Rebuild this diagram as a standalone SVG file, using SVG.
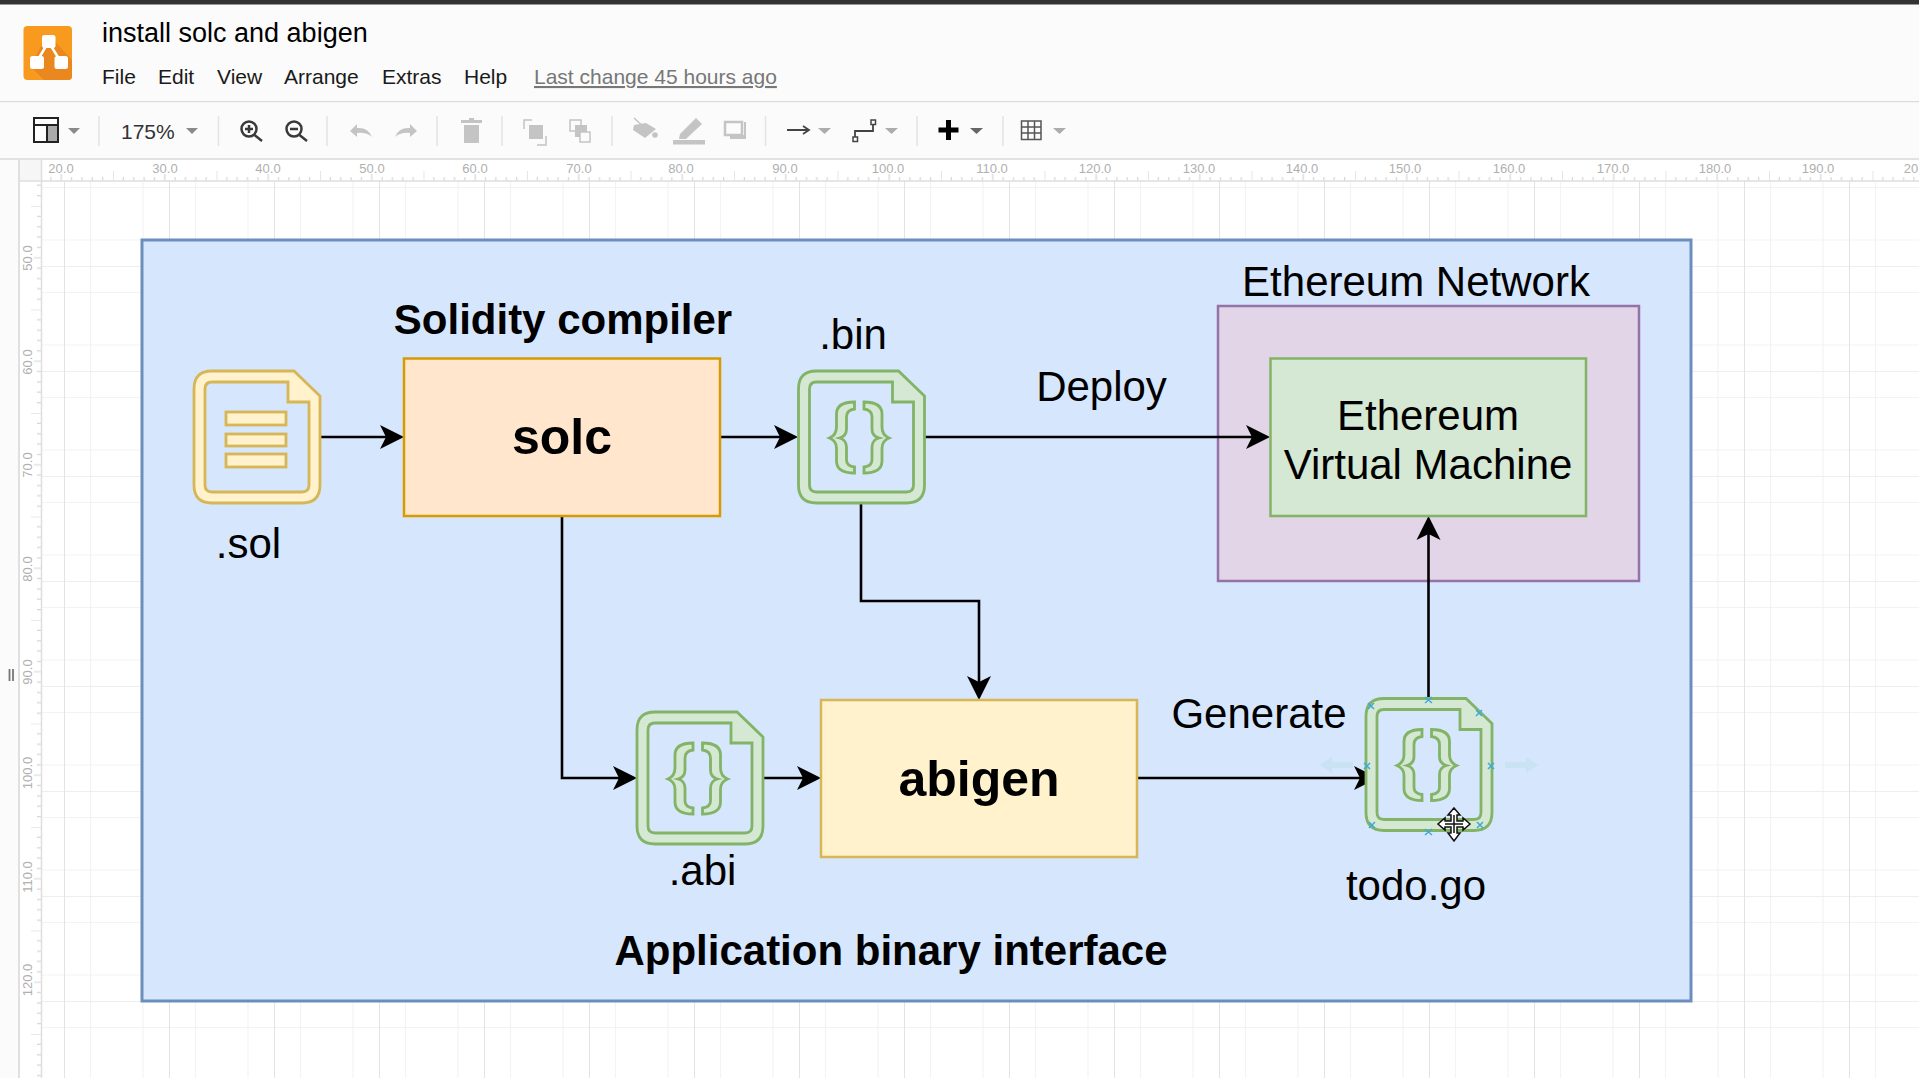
<svg xmlns="http://www.w3.org/2000/svg" width="1919" height="1078" viewBox="0 0 1919 1078">
<style>
text{font-family:"Liberation Sans",Arial,sans-serif;fill:#000}
.ui{font-size:21px;fill:#1a1a1a}
.rl{font-size:13px;fill:#b0b0b0;text-anchor:middle}
.lb{font-size:42px;text-anchor:middle}
.bd{font-weight:bold;text-anchor:middle}
.sep{stroke:#e4e4e4;stroke-width:1.5}
.tri{fill:#8a8a8a}
.off{fill:#c4c4c4;stroke:none}
.offl{fill:none;stroke:#c4c4c4;stroke-width:2.5}
.dk{fill:none;stroke:#3a3a3a;stroke-width:2.5}
.conn{fill:none;stroke:#000;stroke-width:2.6;marker-end:url(#ah)}
.cp{stroke:#3fa9d8;stroke-width:1.5;fill:none}
.gr{fill:#d5e8d4;stroke:#82b366;stroke-width:2.8}
.yl{fill:#fff2cc;stroke:#d6b656;stroke-width:2.8}
</style>
<defs>
<marker id="ah" markerUnits="userSpaceOnUse" markerWidth="26" markerHeight="26" refX="18" refY="12" orient="auto" viewBox="0 0 26 24">
<path d="M0,0 L24,12 L0,24 L6,12 Z" fill="#000"/>
</marker>
<path id="fileshape" fill-rule="evenodd" d="M18,0 H100 L126,25 V114 Q126,132 108,132 H18 Q0,132 0,114 V18 Q0,0 18,0 Z M18,11 Q11,11 11,18 V114 Q11,121 18,121 H108 Q115,121 115,114 V31 H94 V11 Z"/>
<path id="brace" d="M56,31 V38 Q48,39 48,46 V58 Q48,65 41,67 Q48,69 48,76 V89 Q48,95 56,96 V102 Q38,102 38,90 V77 Q38,70 31,67 Q38,64 38,56 V43 Q38,31 56,31 Z"/>
<g id="codefile">
<use href="#fileshape"/>
<use href="#brace"/>
<use href="#brace" transform="translate(121.5,0) scale(-1,1)"/>
</g>
<pattern id="grid" patternUnits="userSpaceOnUse" x="64" y="266" width="105" height="105">
<path d="M26.5,0 V105 M79,0 V105 M0,26.5 H105 M0,79 H105" stroke="#f3f3f3" stroke-width="1.2" fill="none"/>
<path d="M0,0 H105" stroke="#e9e9e9" stroke-width="1.5" fill="none"/>
<path d="M0,0 V105" stroke="#e3e3e3" stroke-width="2" fill="none"/>
</pattern>
<pattern id="tickx" patternUnits="userSpaceOnUse" x="9.5" y="160" width="103.5" height="22">
<path d="M0,11 V21 M10.35,17 V21 M20.7,17 V21 M31.05,17 V21 M41.4,17 V21 M51.75,14 V21 M62.1,17 V21 M72.45,17 V21 M82.8,17 V21 M93.15,17 V21" stroke="#d6d6d6" stroke-width="1.2" fill="none"/>
</pattern>
<pattern id="ticky" patternUnits="userSpaceOnUse" x="19" y="206" width="23" height="103.5">
<path d="M12,0 H22 M18,10.35 H22 M18,20.7 H22 M18,31.05 H22 M18,41.4 H22 M15,51.75 H22 M18,62.1 H22 M18,72.45 H22 M18,82.8 H22 M18,93.15 H22" stroke="#d6d6d6" stroke-width="1.2" fill="none"/>
</pattern>
</defs>

<g id="canvas">
<rect width="1919" height="1078" fill="#ffffff"/>
<rect x="42" y="181" width="1877" height="897" fill="url(#grid)"/>
</g>

<g id="header">
<rect width="1919" height="102" fill="#fbfbfb"/>
<rect width="1919" height="4.5" fill="#333333"/>
<rect y="101" width="1919" height="1.5" fill="#dcdcdc"/>
<rect x="23.500" y="26" width="48.500" height="54" rx="4" fill="#f79a1e"/>
<path d="M48,34 L72,60 V76 Q72,80 68,80 H44 L30,66 Z" fill="#ea871f"/>
<path d="M48.500,42 L36.500,62 M48.500,42 L61,62" stroke="#fff" stroke-width="2.500" fill="none"/>
<rect x="42" y="35" width="13.500" height="13" rx="2.500" fill="#fff"/>
<rect x="30" y="56" width="14" height="13" rx="2.500" fill="#fff"/>
<rect x="54.500" y="56" width="13.500" height="13" rx="2.500" fill="#fff"/>
<text x="102" y="42" font-size="27">install solc and abigen</text>
<text class="ui" x="102" y="84">File</text>
<text class="ui" x="158" y="84">Edit</text>
<text class="ui" x="217" y="84">View</text>
<text class="ui" x="284" y="84">Arrange</text>
<text class="ui" x="382" y="84">Extras</text>
<text class="ui" x="464" y="84">Help</text>
<text x="534" y="84" font-size="21" style="fill:#777" text-decoration="underline">Last change 45 hours ago</text>
</g>

<g id="toolbar">
<rect y="102.500" width="1919" height="56" fill="#fbfbfb"/>
<rect y="158" width="1919" height="2" fill="#e2e2e2"/>
<rect x="34" y="118" width="24" height="24" fill="#fff" stroke="#222" stroke-width="2"/>
<path d="M34,125 H58" stroke="#222" stroke-width="2"/>
<rect x="47" y="125" width="11" height="17" fill="#aaa" stroke="#222" stroke-width="2"/>
<path class="tri" d="M68,128 H80 L74,134 Z"/>
<path class="sep" d="M99,116 V146 M218.500,116 V146 M327,116 V146 M437,116 V146 M502,116 V146 M612,116 V146 M765.500,116 V146 M917,116 V146 M1003,116 V146"/>
<text x="121" y="139" font-size="21" style="fill:#333">175%</text>
<path class="tri" d="M186,128 H198 L192,134 Z"/>
<circle class="dk" cx="249" cy="129" r="7.500"/>
<path class="dk" d="M254.500,135 L262,141 M245,129 H253 M249,125 V133"/>
<circle class="dk" cx="294" cy="129" r="7.500"/>
<path class="dk" d="M299.500,135 L307,141 M290,129 H298"/>
<path class="off" d="M350,131 L357,124 V128 Q368,127 372,137 Q366,132 357,133 V137 Z"/>
<path class="off" d="M417,131 L410,124 V128 Q399,127 395,137 Q401,132 410,133 V137 Z"/>
<path class="off" d="M461,120 H469 V118 H474 V120 H482 V123 H461 Z M464,125 H479 V143 H464 Z"/>
<rect class="off" x="529" y="125" width="14" height="14"/>
<path class="offl" style="stroke-width:1.500" d="M532,120 H524 V129 M537,145 H546 V136"/>
<rect x="570" y="120" width="11" height="11" fill="#fbfbfb" stroke="#c4c4c4" stroke-width="1.500"/>
<rect class="off" x="575" y="125" width="12" height="12"/>
<rect x="580" y="132" width="10" height="10" fill="#fbfbfb" stroke="#c4c4c4" stroke-width="1.500"/>
<path class="off" d="M634,125 L646,123 L656,129 L645,138 L633,130 Z"/>
<path class="offl" style="stroke-width:1.500" d="M634,118 L645,128"/>
<circle class="off" cx="655" cy="135" r="2.800"/>
<path class="off" d="M680,134 L696,118 L702,124 L686,139 L679,139 Z"/>
<rect class="off" x="673" y="140" width="32" height="4.500"/>
<rect x="725" y="122" width="17" height="13" fill="none" stroke="#c4c4c4" stroke-width="2.500"/>
<path class="off" d="M730,135 H744 V122 H746 V139 H730 Z"/>
<path d="M787,130 H808 M803,126 L809,130 L803,134" fill="none" stroke="#444" stroke-width="1.800"/>
<path class="tri" d="M818,128 H831 L824.500,134 Z" fill-opacity=".7"/>
<path d="M855,137 V131 H873 V124" fill="none" stroke="#444" stroke-width="1.800"/>
<rect x="853" y="137" width="4.500" height="4.500" fill="#fff" stroke="#444" stroke-width="1.500"/>
<rect x="871" y="120" width="4.500" height="4.500" fill="#fff" stroke="#444" stroke-width="1.500"/>
<path class="tri" d="M885,128 H898 L891.500,134 Z" fill-opacity=".7"/>
<path d="M938.500,130 H958.500 M948.500,120 V140" stroke="#000" stroke-width="5" fill="none"/>
<path class="tri" d="M970,128 H983 L976.500,134 Z" style="fill:#666"/>
<path d="M1021.500,121 H1041 V139.500 H1021.500 Z M1021.500,127 H1041 M1021.500,133 H1041 M1028,121 V139.500 M1034.500,121 V139.500" fill="none" stroke="#555" stroke-width="1.500"/>
<path class="tri" d="M1053,128 H1066 L1059.500,134 Z" fill-opacity=".7"/>
</g>

<g id="rulers">
<rect x="0" y="160" width="19" height="918" fill="#fbfbfb"/>
<rect x="19" y="160" width="23" height="918" fill="#ffffff"/>
<rect x="42" y="160" width="1877" height="21" fill="#ffffff"/>
<rect x="19" y="160" width="23" height="21" fill="#f6f6f6"/>
<rect x="42" y="160" width="1877" height="22" fill="url(#tickx)"/>
<rect x="19" y="182" width="23" height="896" fill="url(#ticky)"/>
<path d="M19,181 H1919 M41.500,160 V1078" stroke="#dedede" stroke-width="1.500" fill="none"/>
<path d="M19,160 V1078" stroke="#e0e0e0" stroke-width="2" fill="none"/>
<path d="M9.500,669 V681 M13,669 V681" stroke="#777" stroke-width="1.800" fill="none"/>
<g id="ruler-x">
<text class="rl" x="61" y="173">20.0</text>
<text class="rl" x="165" y="173">30.0</text>
<text class="rl" x="268" y="173">40.0</text>
<text class="rl" x="372" y="173">50.0</text>
<text class="rl" x="475" y="173">60.0</text>
<text class="rl" x="579" y="173">70.0</text>
<text class="rl" x="681" y="173">80.0</text>
<text class="rl" x="785" y="173">90.0</text>
<text class="rl" x="888" y="173">100.0</text>
<text class="rl" x="992" y="173">110.0</text>
<text class="rl" x="1095" y="173">120.0</text>
<text class="rl" x="1199" y="173">130.0</text>
<text class="rl" x="1302" y="173">140.0</text>
<text class="rl" x="1405" y="173">150.0</text>
<text class="rl" x="1509" y="173">160.0</text>
<text class="rl" x="1613" y="173">170.0</text>
<text class="rl" x="1715" y="173">180.0</text>
<text class="rl" x="1818" y="173">190.0</text>
<text class="rl" x="1911" y="173">20</text>
</g>
<g id="ruler-y">
<text class="rl" transform="translate(32,258) rotate(-90)">50.0</text>
<text class="rl" transform="translate(32,362) rotate(-90)">60.0</text>
<text class="rl" transform="translate(32,465) rotate(-90)">70.0</text>
<text class="rl" transform="translate(32,569) rotate(-90)">80.0</text>
<text class="rl" transform="translate(32,672) rotate(-90)">90.0</text>
<text class="rl" transform="translate(32,773) rotate(-90)">100.0</text>
<text class="rl" transform="translate(32,877) rotate(-90)">110.0</text>
<text class="rl" transform="translate(32,980) rotate(-90)">120.0</text>
</g>
</g>

<g id="node-abi-container">
<rect x="142" y="240" width="1549" height="761" fill="#d6e6fc" stroke="#6c8ebf" stroke-width="3"/>
<text class="bd" x="891" y="965" font-size="42">Application binary interface</text>
</g>

<g id="node-ethereum-network">
<rect x="1218" y="306" width="421" height="275" fill="#e1d5e7" stroke="#9673a6" stroke-width="2.500"/>
<text class="lb" x="1416" y="296">Ethereum Network</text>
</g>

<g id="connectors">
<path class="conn" d="M320,437 H398"/>
<path class="conn" d="M720,437 H792"/>
<path class="conn" d="M924,437 H1264"/>
<path class="conn" d="M562,516 V778 H631"/>
<path class="conn" d="M861,503 V601 H979 V694"/>
<path class="conn" d="M763,778 H815"/>
<path class="conn" d="M1137,778 H1372"/>
<path class="conn" d="M1428.500,698 V522"/>
</g>

<g id="node-sol">
<use href="#fileshape" class="yl" x="194" y="371"/>
<g class="yl"><rect x="226" y="412" width="60" height="13"/><rect x="226" y="434" width="60" height="12"/><rect x="226" y="454" width="60" height="13"/></g>
<text class="lb" x="248.500" y="558">.sol</text>
</g>
<g id="node-solc">
<rect x="404" y="358.500" width="316" height="157.500" fill="#ffe6cc" stroke="#d79b00" stroke-width="2.500"/>
<text class="bd" x="562" y="454" font-size="50">solc</text>
<text class="bd" x="563" y="334" font-size="42">Solidity compiler</text>
</g>
<g id="node-bin">
<use href="#codefile" class="gr" x="798.500" y="371"/>
<text class="lb" x="853" y="349">.bin</text>
</g>
<g id="node-deploy-label"><text class="lb" x="1101.500" y="401">Deploy</text></g>
<g id="node-evm">
<rect x="1270.500" y="358.500" width="315.500" height="157.500" fill="#d5e8d4" stroke="#82b366" stroke-width="2.500"/>
<text class="lb" x="1428" y="430">Ethereum</text>
<text class="lb" x="1428" y="479">Virtual Machine</text>
</g>
<g id="node-abi">
<use href="#codefile" class="gr" x="637" y="712"/>
<text class="lb" x="702.500" y="885">.abi</text>
</g>
<g id="node-abigen">
<rect x="821" y="700" width="316" height="157" fill="#fff2cc" stroke="#d6b656" stroke-width="2.500"/>
<text class="bd" x="979" y="796" font-size="50">abigen</text>
</g>
<g id="node-generate-label"><text class="lb" x="1259" y="728">Generate</text></g>
<g id="node-todo">
<use href="#codefile" class="gr" x="1366" y="698.500"/>
<text class="lb" x="1416" y="900">todo.go</text>
</g>
<g id="selection">
<path d="M1353,762 H1332 V757 L1320,765 L1332,773 V768 H1353 Z M1505,762 H1526 V757 L1538,765 L1526,773 V768 H1505 Z" fill="#c5e2ef" opacity=".8"/>
<path class="cp" d="M1368,703 L1374,709 M1374,703 L1368,709 M1425,697 L1432,703 M1432,697 L1425,703 M1476,710 L1482,716 M1482,710 L1476,716 M1488,763 L1494,769 M1494,763 L1488,769 M1477,822 L1483,828 M1483,822 L1477,828 M1425,829 L1432,835 M1432,829 L1425,835 M1369,822 L1375,828 M1375,822 L1369,828 M1364,763 L1370,769 M1370,763 L1364,769"/>
<path d="M1454,808 L1460,815 H1457 V821 H1463 V818 L1470,824 L1463,830 V827 H1457 V833 H1460 L1454,841 L1448,833 H1451 V827 H1445 V830 L1438,824 L1445,818 V821 H1451 V815 H1448 Z" fill="#fff" stroke="#111" stroke-width="1.500"/>
<path d="M1454,815 V833 M1445,824 H1463" stroke="#111" stroke-width="1.500"/>
</g>
</svg>
